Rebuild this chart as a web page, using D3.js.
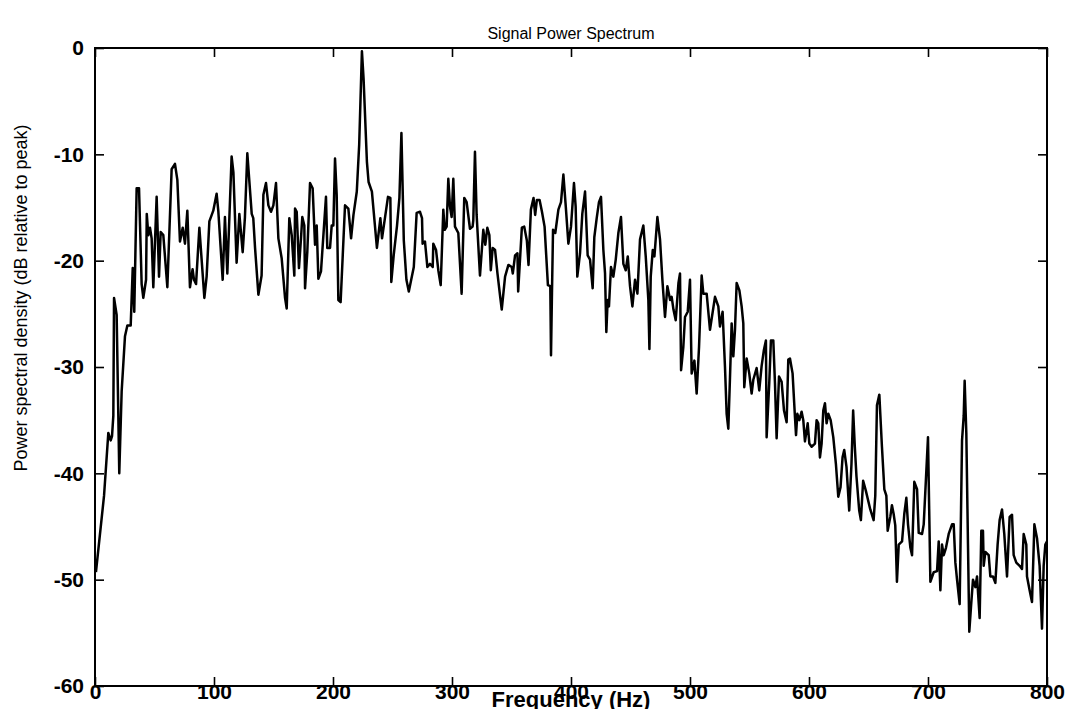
<!DOCTYPE html>
<html><head><meta charset="utf-8">
<script src="https://cdn.jsdelivr.net/npm/d3@7"></script>
<style>body{margin:0;background:#fff}svg{display:block}</style>
</head><body>
<svg id="chart" width="1068" height="709"></svg>
<script>
const titleText = "Signal Power Spectrum";
const xLabel = "Frequency (Hz)";
const yLabel = "Power spectral density (dB relative to peak)";
const xTicks = [0,100,200,300,400,500,600,700,800];
const yTicks = [0,-10,-20,-30,-40,-50,-60];

const freqHz = [
0.8,7.6,11.2,13.2,14.3,15.4,16.0,18.2,20.4,22.4,25.2,27.2,30.0,31.7,33.0,35.0,37.0,39.2,40.6,42.9,43.5,44.8,46.2,47.6,49.0,51.8,53.8,55.2,57.4,60.8,64.4,67.2,69.2,71.4,73.7,75.6,77.6,79.8,82.0,83.2,84.9,87.7,91.9,93.8,96.1,99.4,102.2,103.6,107.3,109.2,111.2,114.8,116.3,119.0,121.3,124.1,126.0,128.0,
131.7,133.0,134.5,137.3,140.0,141.5,143.7,145.7,147.9,149.9,152.1,154.1,156.9,159.7,161.1,163.3,165.3,167.5,168.1,169.5,171.4,173.1,174.2,175.9,176.5,178.4,180.7,182.9,184.9,186.3,187.7,189.9,194.1,195.2,197.5,198.9,200.3,201.7,203.1,204.5,206.4,210.1,212.9,215.2,217.2,220.0,222.0,224.3,225.7,228.5,229.9,232.7,236.9,239.8,241.2,246.2,248.2,249.0,251.0,253.8,255.8,257.5,
259.5,261.7,263.7,267.9,270.3,273.1,274.8,275.3,277.3,279.3,281.5,283.8,284.3,286.6,288.5,290.5,292.7,293.9,295.5,296.9,298.3,299.7,301.1,302.5,305.3,308.1,310.3,312.3,315.1,317.3,317.9,319.3,320.7,323.5,326.3,328.0,329.7,331.4,332.6,334.2,336.2,338.2,340.5,341.8,344.6,347.4,350.2,351.1,353.0,355.0,355.6,358.7,360.7,362.9,364.3,366.3,368.5,369.9,371.3,373.6,375.6,377.8,380.6,382.6,383.2,384.0,384.9,386.8,
389.4,391.6,393.6,395.6,397.8,400.0,402.5,403.9,405.3,407.6,409.5,411.8,414.0,416.0,418.2,419.6,421.6,423.5,425.2,427.2,428.6,429.7,430.8,431.9,433.6,435.6,437.6,439.8,442.0,444.0,446.0,447.7,449.6,451.6,453.8,455.8,458.0,460.8,462.8,465.0,465.9,467.0,468.7,470.1,472.6,474.8,476.8,479.0,481.0,483.3,484.6,486.1,488.0,490.3,491.6,492.5,494.4,495.8,498.1,500.0,501.4,503.7,505.6,507.6,509.8,511.2,514.0,516.8,
521.0,523.8,525.2,527.4,529.4,530.8,532.2,533.6,535.0,536.4,537.8,539.2,541.5,543.4,544.8,545.6,547.6,549.8,551.8,553.2,556.0,558.2,560.2,562.1,563.8,564.4,566.6,568.0,570.0,571.4,572.8,574.8,577.0,579.0,581.2,582.6,584.0,586.2,588.2,589.1,590.2,591.9,593.8,595.2,596.6,598.9,600.3,602.2,605.0,606.4,607.8,609.2,610.6,612.0,613.4,614.8,616.2,618.2,620.4,622.6,624.6,626.5,628.2,629.6,631.5,633.8,635.7,637.1,638.5,639.9,642.2,643.6,645.5,647.7,
651.5,654.3,655.7,657.1,659.1,661.3,663.3,665.0,666.1,668.3,669.7,671.1,672.5,673.9,675.4,678.2,680.1,681.8,683.2,685.2,686.6,688.5,690.8,692.2,695.0,696.4,700.0,702.0,704.8,707.6,709.0,710.4,711.8,713.2,715.1,717.4,720.2,721.6,723.0,724.4,726.6,728.6,730.0,730.8,732.2,733.6,734.7,736.1,737.8,739.8,741.2,743.4,744.8,746.2,746.8,748.2,751.0,752.4,754.6,756.6,758.5,760.2,762.2,764.1,766.4,768.6,770.6,772.0,774.2,777.0,779.0,780.4,782.6,783.2,785.4,787.4,789.4,791.6,793.8,795.8,797.2,798.6,800.0
];
const powerDb = [
-49.3,-42.1,-36.2,-36.9,-36.5,-34.6,-23.5,-25.1,-40.0,-32.3,-27.1,-26.1,-26.1,-20.7,-24.8,-13.2,-13.2,-22.2,-23.5,-21.8,-15.6,-17.6,-16.9,-17.9,-22.5,-14.0,-21.5,-17.3,-17.6,-22.5,-11.4,-10.9,-12.4,-18.2,-16.9,-18.4,-15.3,-22.5,-20.8,-21.8,-22.2,-16.9,-23.5,-21.5,-16.3,-15.3,-13.7,-15.3,-21.8,-15.9,-21.2,-10.2,-11.7,-20.2,-15.6,-19.2,-15.9,-9.9,
-15.6,-16.0,-18.8,-23.2,-21.4,-13.8,-12.7,-14.8,-15.4,-14.8,-12.7,-17.9,-19.8,-23.5,-24.5,-16.0,-17.6,-21.4,-15.1,-15.4,-20.7,-17.9,-15.9,-16.7,-22.6,-19.2,-12.7,-13.2,-18.5,-16.7,-21.7,-21.0,-14.0,-18.8,-18.8,-16.7,-16.7,-10.4,-13.8,-23.7,-23.9,-14.8,-15.1,-17.9,-15.7,-13.5,-9.1,-0.3,-2.9,-10.7,-12.6,-13.5,-18.8,-16.0,-17.9,-14.0,-14.1,-22.0,-19.5,-16.7,-14.1,-8.0,
-18.1,-21.8,-22.9,-20.6,-15.5,-15.4,-16.0,-18.4,-18.2,-20.6,-20.3,-20.6,-18.4,-19.0,-20.9,-22.3,-15.2,-17.1,-16.8,-12.3,-14.9,-15.9,-12.3,-16.8,-17.4,-23.1,-14.1,-14.5,-17.0,-16.8,-16.2,-9.75,-15.7,-21.4,-17.1,-18.5,-16.9,-17.6,-20.9,-18.8,-19.0,-21.2,-23.4,-24.6,-21.5,-20.4,-20.6,-21.2,-19.5,-19.3,-22.9,-16.9,-16.8,-18.1,-20.4,-15.2,-14.1,-15.7,-14.3,-14.3,-15.4,-16.8,-22.3,-22.4,-28.9,-23.1,-17.1,-17.4,
-15.2,-14.5,-11.9,-14.9,-18.4,-16.8,-12.7,-14.9,-21.5,-19.3,-15.6,-13.5,-19.5,-19.9,-22.6,-17.8,-16.0,-14.5,-14.0,-19.0,-21.2,-26.7,-23.7,-24.3,-20.6,-21.5,-19.9,-17.4,-15.9,-20.3,-20.9,-19.6,-22.4,-24.3,-21.8,-23.1,-18.0,-16.7,-19.6,-23.7,-28.3,-21.5,-19.0,-19.6,-15.9,-18.0,-21.8,-25.3,-22.4,-23.7,-23.4,-24.6,-25.6,-22.1,-21.2,-30.3,-28.1,-25.3,-24.8,-21.8,-30.6,-29.4,-32.5,-28.1,-21.4,-23.1,-23.1,-26.5,
-23.4,-24.3,-26.2,-24.8,-30.0,-34.4,-35.8,-31.0,-25.9,-29.0,-26.5,-22.1,-22.8,-24.3,-25.9,-31.9,-29.2,-30.6,-32.5,-31.2,-30.1,-32.2,-29.9,-28.4,-27.5,-36.6,-31.5,-27.5,-27.5,-31.5,-36.7,-30.9,-31.4,-34.1,-35.2,-29.3,-29.2,-30.6,-34.7,-36.4,-34.4,-35.0,-34.2,-35.0,-37.0,-35.3,-37.2,-37.5,-37.2,-35.0,-35.3,-38.5,-37.2,-34.1,-33.4,-35.3,-34.4,-35.0,-36.6,-39.1,-42.2,-41.3,-38.5,-37.8,-39.4,-43.5,-39.1,-34.1,-37.5,-40.3,-43.5,-44.4,-40.7,-41.6,
-43.4,-44.4,-42.1,-33.6,-32.6,-37.5,-41.5,-42.1,-45.4,-44.1,-43.0,-43.8,-44.9,-50.2,-46.7,-46.4,-43.8,-42.3,-44.8,-47.0,-47.7,-40.8,-41.5,-45.6,-45.7,-44.8,-36.6,-50.2,-49.3,-49.2,-46.4,-51.0,-46.7,-47.7,-47.0,-45.7,-44.8,-44.8,-48.4,-50.0,-52.3,-36.9,-34.6,-31.3,-36.2,-46.7,-54.9,-52.6,-50.0,-50.7,-49.7,-53.6,-45.4,-45.4,-48.7,-47.4,-47.7,-49.7,-49.7,-50.3,-46.7,-44.4,-43.4,-45.7,-49.7,-44.1,-43.9,-47.7,-48.4,-48.7,-49.0,-45.7,-46.7,-49.7,-51.0,-52.1,-44.8,-46.1,-48.7,-54.6,-48.7,-46.7,-46.4
];

const data = freqHz.map((f,i)=>({f, db: powerDb[i]}));

const m = {left:95, right:1047, top:48, bottom:686};
const svg = d3.select("#chart");
const font = "'Liberation Sans', Arial, Helvetica, sans-serif";

const x = d3.scaleLinear().domain([0,800]).range([m.left, m.right]);
const y = d3.scaleLinear().domain([-60,0]).range([m.bottom, m.top]);

svg.append("clipPath").attr("id","plotclip").append("rect")
  .attr("x", m.left).attr("y", m.top-2).attr("width", m.right-m.left).attr("height", m.bottom-m.top+4);

const line = d3.line().x(d=>x(d.f)).y(d=>y(d.db));
svg.append("path").datum(data)
  .attr("clip-path","url(#plotclip)")
  .attr("fill","none").attr("stroke","#000").attr("stroke-width",2.5)
  .attr("stroke-linejoin","round").attr("d", line);

const tickLen = 9;
const fmt = d => String(d);
const gB = svg.append("g").attr("transform",`translate(0,${m.bottom})`)
  .call(d3.axisBottom(x).tickValues(xTicks).tickSizeInner(-tickLen).tickSizeOuter(0).tickPadding(-2).tickFormat(fmt));
const gT = svg.append("g").attr("transform",`translate(0,${m.top})`)
  .call(d3.axisTop(x).tickValues(xTicks).tickSizeInner(-tickLen).tickSizeOuter(0).tickFormat(""));
const gL = svg.append("g").attr("transform",`translate(${m.left},0)`)
  .call(d3.axisLeft(y).tickValues(yTicks).tickSizeInner(-tickLen).tickSizeOuter(0).tickPadding(11).tickFormat(fmt));
const gR = svg.append("g").attr("transform",`translate(${m.right},0)`)
  .call(d3.axisRight(y).tickValues(yTicks).tickSizeInner(-tickLen).tickSizeOuter(0).tickFormat(""));

[gB,gT,gL,gR].forEach(g=>{
  g.select(".domain").remove();
  g.selectAll(".tick line").attr("stroke","#000").attr("stroke-width",1.6);
  g.selectAll("text").attr("fill","#000").style("font-family",font)
    .style("font-size","21px").style("font-weight","bold");
});

svg.append("rect").attr("x",m.left).attr("y",m.top)
  .attr("width",m.right-m.left).attr("height",m.bottom-m.top)
  .attr("fill","none").attr("stroke","#000").attr("stroke-width",2);

svg.append("text").attr("x",571).attr("y",39)
  .attr("text-anchor","middle").style("font-family",font).style("font-size","16px")
  .text(titleText);
svg.append("text").attr("x",571).attr("y",707)
  .attr("text-anchor","middle").style("font-family",font).style("font-size","22px").style("font-weight","bold")
  .text(xLabel);
svg.append("text").attr("transform",`translate(27,298) rotate(-90)`)
  .attr("text-anchor","middle").style("font-family",font).style("font-size","18px")
  .text(yLabel);
</script>
</body></html>
